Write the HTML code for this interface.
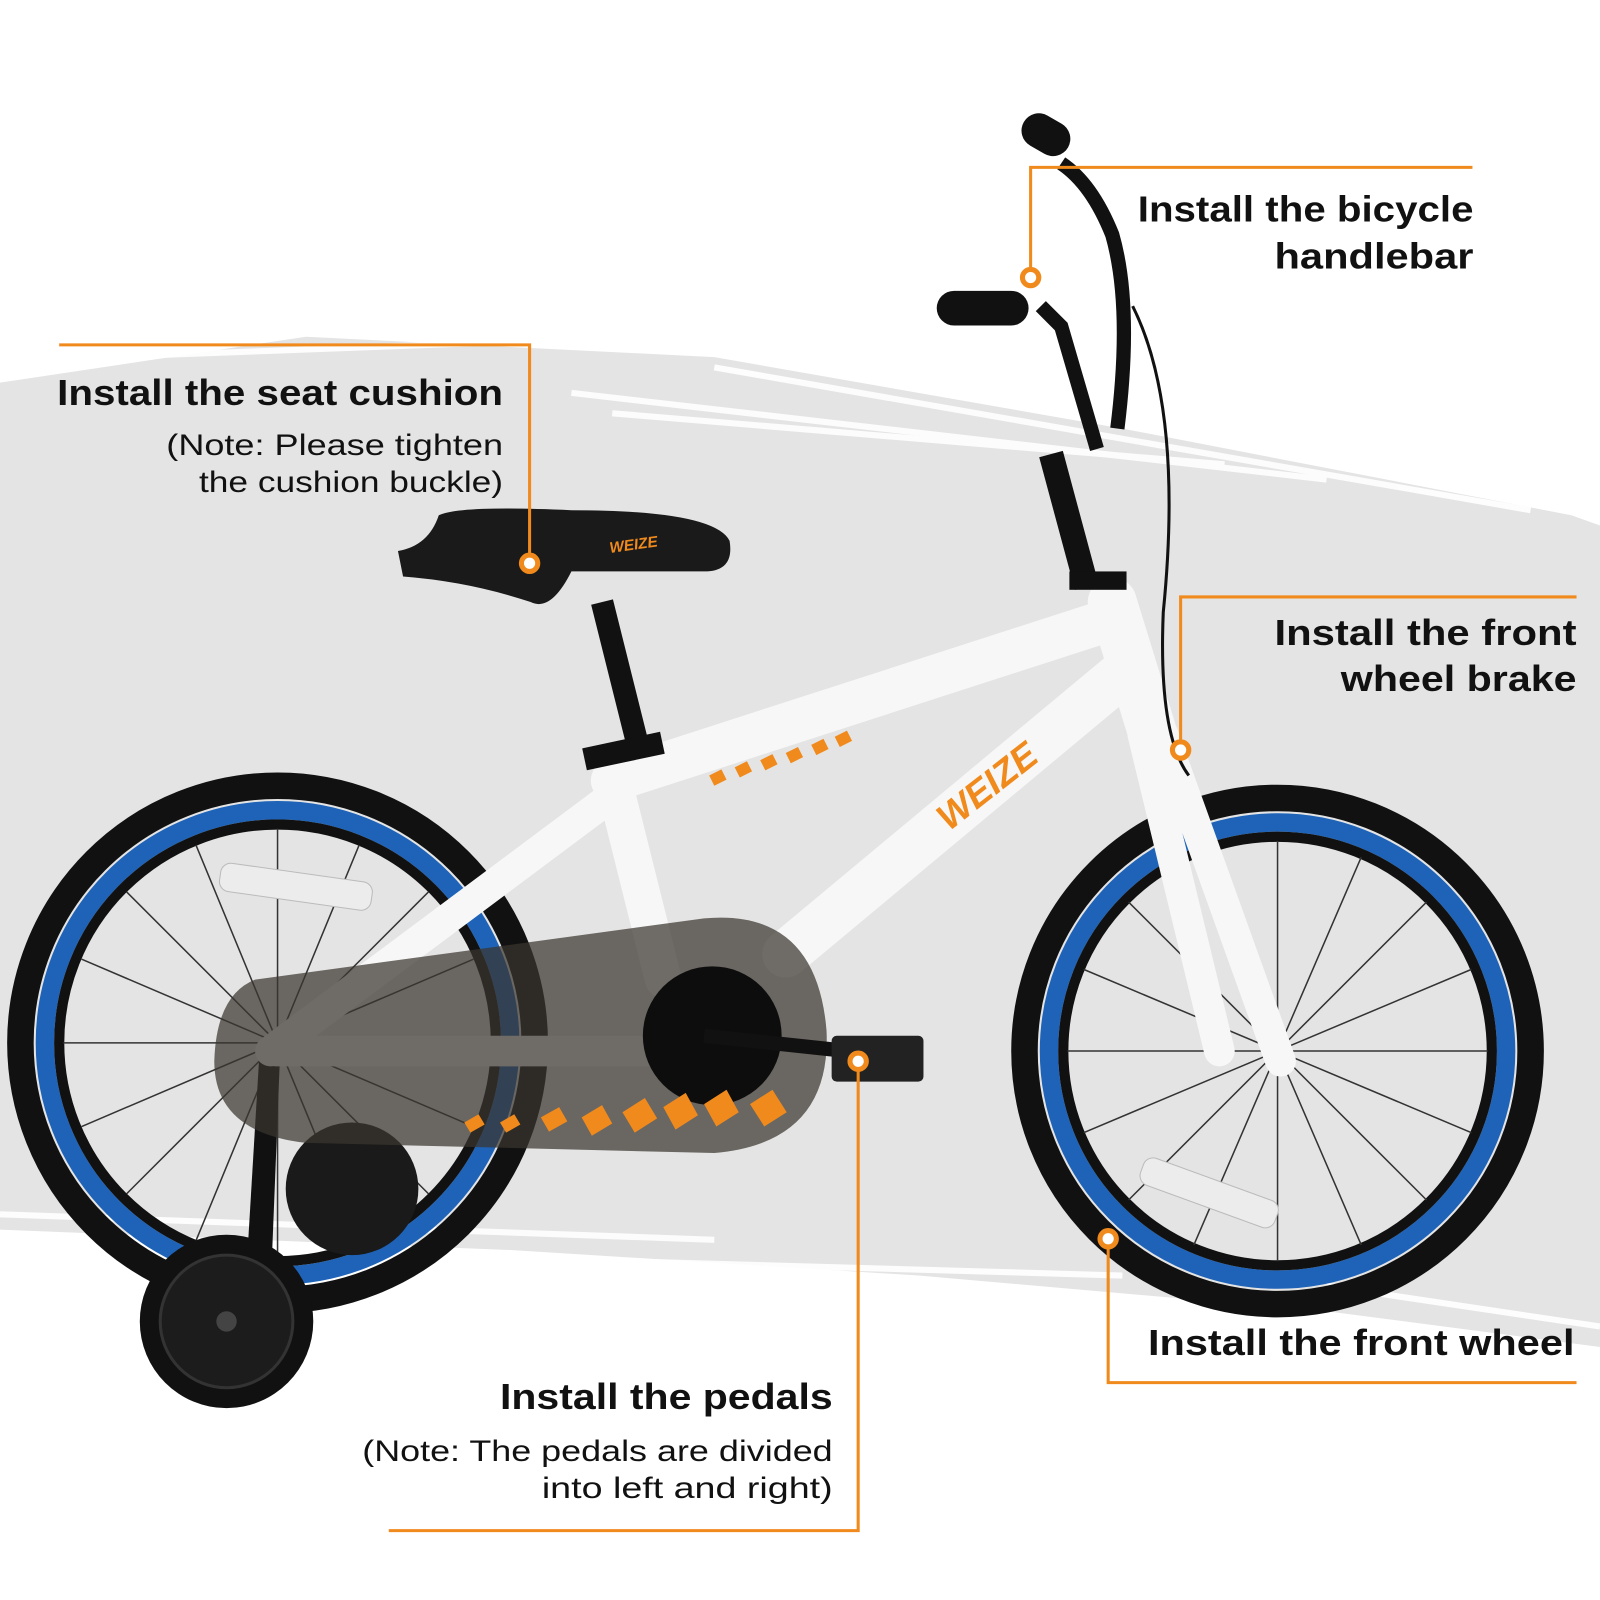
<!DOCTYPE html>
<html><head><meta charset="utf-8"><style>
html,body{margin:0;padding:0;background:#fff}
svg{display:block}
text{font-family:"Liberation Sans",sans-serif;fill:#111}
.b{font-weight:bold;font-size:35px}
.n{font-size:29px}
</style></head><body>
<svg width="1600" height="1600" viewBox="0 0 1568 1568" xmlns="http://www.w3.org/2000/svg">
<rect width="1568" height="1568" fill="#fff"/>
<polygon points="0,375 300,330 700,350 1100,420 1540,505 1568,515 1568,1320 1300,1285 900,1250 500,1225 0,1205" fill="#e4e4e4"/>
<g stroke="#fff" stroke-width="6" opacity="0.9" fill="none">
<path d="M560,385 L1300,470"/><path d="M600,405 L1200,455"/><path d="M700,360 L1500,500"/>
<path d="M0,1190 L700,1215"/><path d="M400,1230 L1100,1250"/><path d="M1300,1260 L1568,1300"/>
<path d="M100,350 L500,335"/>
</g>
<circle cx="272" cy="1022" r="252" fill="none" stroke="#111" stroke-width="26"/>
<circle cx="272" cy="1022" r="228" fill="none" stroke="#1e63b8" stroke-width="18"/>
<circle cx="272" cy="1022" r="214" fill="none" stroke="#111" stroke-width="10"/>
<g stroke="#333" stroke-width="1.5">
<path d="M272,812 L272,1232 M62,1022 L482,1022 M124,874 L420,1170 M420,874 L124,1170 M192,828 L352,1216 M352,828 L192,1216 M80,940 L464,1104 M80,1104 L464,940"/>
</g>
<circle cx="1252" cy="1030" r="248" fill="none" stroke="#111" stroke-width="26"/>
<circle cx="1252" cy="1030" r="224" fill="none" stroke="#1e63b8" stroke-width="18"/>
<circle cx="1252" cy="1030" r="210" fill="none" stroke="#111" stroke-width="10"/>
<g stroke="#333" stroke-width="1.5">
<path d="M1252,824 L1252,1236 M1046,1030 L1458,1030 M1106,884 L1398,1176 M1398,884 L1106,1176 M1170,840 L1334,1220 M1334,840 L1170,1220 M1062,950 L1442,1110 M1062,1110 L1442,950"/>
</g>
<rect x="215" y="855" width="150" height="28" rx="10" fill="#ececec" stroke="#bbb" transform="rotate(8 290 869)"/>
<rect x="1115" y="1155" width="140" height="28" rx="10" fill="#ececec" stroke="#bbb" transform="rotate(20 1185 1169)"/>
<path d="M255,1020 L275,1020 L265,1270 L240,1270 Z" fill="#111"/>
<circle cx="345" cy="1165" r="65" fill="#1a1a1a"/>
<circle cx="222" cy="1295" r="85" fill="#111"/>
<circle cx="222" cy="1295" r="65" fill="#1c1c1c" stroke="#333" stroke-width="3"/>
<circle cx="222" cy="1295" r="10" fill="#444"/>
<g stroke="#f7f7f7" stroke-linecap="round" fill="none">
<path d="M600,765 L1095,605" stroke-width="42"/>
<path d="M1100,660 L770,935" stroke-width="46"/>
<path d="M600,760 L650,960" stroke-width="36"/>
<path d="M600,780 L265,1030" stroke-width="30"/>
<path d="M270,1030 L640,1030" stroke-width="30"/>
<path d="M1090,590 L1130,720" stroke-width="48"/>
<path d="M1120,720 L1195,1030" stroke-width="30"/>
<path d="M1140,720 L1255,1040" stroke-width="30"/>
</g>
<path d="M250,960 L690,900 Q800,890 810,1010 Q815,1120 700,1130 L300,1120 Q210,1110 210,1040 Q212,975 250,960 Z" fill="#3a342e" opacity="0.72"/>
<circle cx="698" cy="1015" r="68" fill="#0d0d0d"/>
<path d="M690,1015 L830,1030" stroke="#111" stroke-width="14"/>
<rect x="815" y="1015" width="90" height="45" rx="5" fill="#222"/>
<g fill="#f08a1c">
<path d="M455,1100 l14,-8 l6,10 l-14,8z M490,1100 l14,-8 l6,10 l-14,8z M530,1095 l18,-10 l8,14 l-18,10z M570,1095 l20,-12 l10,18 l-20,12z M610,1090 l22,-14 l12,20 l-22,14z M650,1085 l22,-14 l12,22 l-22,14z M690,1082 l22,-14 l12,22 l-22,14z M735,1082 l22,-14 l14,22 l-22,14z"/>
<path d="M695,760 l12,-6 l5,10 l-12,6z M720,752 l12,-6 l5,10 l-12,6z M745,745 l12,-6 l5,10 l-12,6z M770,738 l12,-6 l5,10 l-12,6z M795,730 l12,-6 l5,10 l-12,6z M818,722 l12,-6 l5,10 l-12,6z"/>
</g>
<text x="0" y="0" transform="translate(930,815) rotate(-38)" style="font-weight:bold;font-style:italic;font-size:36px;fill:#f08a1c">WEIZE</text>
<path d="M590,590 L625,730" stroke="#111" stroke-width="22"/>
<rect x="572" y="725" width="78" height="22" fill="#111" transform="rotate(-12 611 736)"/>
<path d="M390,540 Q420,535 430,505 Q450,495 560,500 Q700,500 715,530 Q720,560 690,560 L560,560 Q540,600 520,590 Q460,570 395,565 Z" fill="#1a1a1a"/>
<text x="598" y="542" transform="rotate(-8 598 542)" style="font-weight:bold;font-style:italic;font-size:15px;fill:#f08a1c">WEIZE</text>
<path d="M1065,575 L1030,445" stroke="#111" stroke-width="24"/>
<path d="M1075,440 L1040,320 L1020,300" stroke="#111" stroke-width="14" fill="none"/>
<path d="M1095,420 Q1110,300 1090,230 Q1070,180 1040,160" stroke="#111" stroke-width="14" fill="none"/>
<rect x="918" y="285" width="90" height="34" rx="17" fill="#111"/>
<rect x="1000" y="115" width="50" height="34" rx="17" fill="#111" transform="rotate(30 1025 132)"/>
<path d="M1110,300 Q1160,400 1140,600 Q1135,720 1165,760" stroke="#111" stroke-width="3" fill="none"/>
<rect x="1048" y="560" width="56" height="18" fill="#111"/>
<g stroke="#f08a1c" stroke-width="3" fill="none">
<path d="M58,338 L519,338 L519,552"/>
<path d="M1443,164 L1010,164 L1010,272"/>
<path d="M1545,585 L1157,585 L1157,735"/>
<path d="M1086,1214 L1086,1355 L1545,1355"/>
<path d="M841,1040 L841,1500 L381,1500"/>
</g>
<g fill="#fff" stroke="#f08a1c" stroke-width="5">
<circle cx="519" cy="552" r="8"/><circle cx="1010" cy="272" r="8"/><circle cx="1157" cy="735" r="8"/><circle cx="1086" cy="1214" r="8"/><circle cx="841" cy="1040" r="8"/>
</g>
<g lengthAdjust="spacingAndGlyphs">
<text class="b" x="56" y="397" textLength="437" lengthAdjust="spacingAndGlyphs">Install the seat cushion</text>
<text class="n" x="163" y="446" textLength="330" lengthAdjust="spacingAndGlyphs">(Note: Please tighten</text>
<text class="n" x="195" y="482" textLength="298" lengthAdjust="spacingAndGlyphs">the cushion buckle)</text>
<text class="b" x="1115" y="217" textLength="329" lengthAdjust="spacingAndGlyphs">Install the bicycle</text>
<text class="b" x="1249" y="263" textLength="195" lengthAdjust="spacingAndGlyphs">handlebar</text>
<text class="b" x="1249" y="632" textLength="296" lengthAdjust="spacingAndGlyphs">Install the front</text>
<text class="b" x="1314" y="677" textLength="231" lengthAdjust="spacingAndGlyphs">wheel brake</text>
<text class="b" x="1125" y="1328" textLength="418" lengthAdjust="spacingAndGlyphs">Install the front wheel</text>
<text class="b" x="490" y="1381" textLength="326" lengthAdjust="spacingAndGlyphs">Install the pedals</text>
<text class="n" x="355" y="1432" textLength="461" lengthAdjust="spacingAndGlyphs">(Note: The pedals are divided</text>
<text class="n" x="531" y="1468" textLength="285" lengthAdjust="spacingAndGlyphs">into left and right)</text>
</g>
</svg>
</body></html>
